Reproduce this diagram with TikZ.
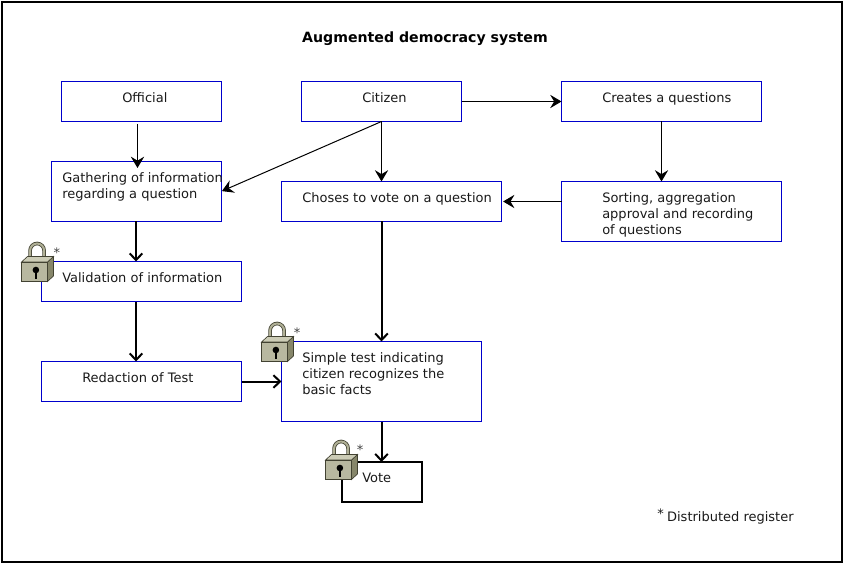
\documentclass[tikz,border=0pt]{standalone}
\usepackage{fontspec}
\setmainfont{DejaVu Sans}
\usetikzlibrary{arrows.meta}

\definecolor{boxblue}{RGB}{0,0,204}
\definecolor{lockfront}{RGB}{184,184,160}
\definecolor{lockside}{RGB}{134,134,106}
\definecolor{locktop}{RGB}{204,204,182}
\definecolor{lockline}{RGB}{66,66,50}
\definecolor{lockbar}{RGB}{176,176,150}

\tikzset{
  stepbox/.style={rectangle, draw=boxblue, line width=0.75pt, inner sep=0pt, outer sep=0pt},
  votebox/.style={rectangle, draw=black, line width=1.5pt, inner sep=0pt, outer sep=0pt},
  steptext/.style={anchor=north west, inner sep=0pt, align=left, text=black!90, font=\fontsize{9.75}{12}\selectfont, execute at begin node={\rule{0pt}{7.5pt}}},
  stepstar/.style={inner sep=0pt, text=black!75, font=\fontsize{9.75}{12}\selectfont},
  thinarrow/.style={draw=black, line width=0.75pt, -{Stealth[length=8.5pt,width=10pt,inset=3pt]}},
  thickarrow/.style={draw=black, line width=1.5pt, -{Straight Barb[length=5pt,width=9.5pt]}},
  lockicon/.pic={
    % Shackle
    \draw[lockline, line width=2.7pt] (8.6,20) -- (8.6,9) arc[start angle=180, end angle=360, x radius=7, y radius=7] -- (22.6,16);
    \draw[lockbar, line width=1.5pt] (8.6,20) -- (8.6,9) arc[start angle=180, end angle=360, x radius=7, y radius=7] -- (22.6,16);
    % Body
    \draw[lockline, fill=lockside, line width=0.5pt] (26,20.5) -- (32,15) -- (32,34.5) -- (26,40) -- cycle;
    \draw[lockline, fill=locktop, line width=0.5pt] (0,20.5) -- (6,15) -- (32,15) -- (26,20.5) -- cycle;
    \draw[lockline, fill=lockfront, line width=0.5pt] (0,20.5) rectangle (26,40);
    % Keyhole
    \fill[black] (14.4,28.5) circle[radius=3.3];
    \fill[black] (13.2,28.5) rectangle (15.6,37.5);
  }
}

\begin{document}
\begin{tikzpicture}[x=0.75pt, y=-0.75pt]
  \useasboundingbox (0,0) rectangle (843,563);

  % Frame
  \draw[black, line width=1.5pt] (2,2) rectangle (842,562);

  % Title
  \node[inner sep=0pt, font=\fontsize{10.6}{12}\selectfont\bfseries] (title) at (425,39) {Augmented democracy system};

  % Boxes
  \node[stepbox, minimum width=127.5pt, minimum height=45pt] (gathering) at (136,191.5) {};
  \node[stepbox, minimum width=120pt, minimum height=30pt] (official) at (141.5,101.5) {};
  \node[stepbox, minimum width=120pt, minimum height=30pt] (citizen) at (381.5,101.5) {};
  \node[stepbox, minimum width=150pt, minimum height=30pt] (creates) at (661.5,101.5) {};
  \node[stepbox, minimum width=165pt, minimum height=30pt] (choses) at (391.5,201.5) {};
  \node[stepbox, minimum width=165pt, minimum height=45pt] (sorting) at (671.5,211.5) {};
  \node[stepbox, minimum width=150pt, minimum height=30pt] (validation) at (141.5,281.5) {};
  \node[stepbox, minimum width=150pt, minimum height=30pt] (redaction) at (141.5,381.5) {};
  \node[stepbox, minimum width=150pt, minimum height=60pt] (simple) at (381.5,381.5) {};
  \node[votebox, minimum width=60pt, minimum height=30pt] (vote) at (382,482) {};

  % Box texts
  \node[steptext] (officialtext) at (122,92) {Official};
  \node[steptext] (citizentext) at (362,92) {Citizen};
  \node[steptext] (createstext) at (602,92) {Creates a questions};
  \node[steptext] (gatheringtext) at (62,172) {Gathering of information\\regarding a question};
  \node[steptext] (chosestext) at (302,192) {Choses to vote on a question};
  \node[steptext] (sortingtext) at (602,192) {Sorting, aggregation\\approval and recording\\of questions};
  \node[steptext] (validationtext) at (62,272) {Validation of information};
  \node[steptext] (redactiontext) at (82,372) {Redaction of Test};
  \node[steptext] (simpletext) at (302,352) {Simple test indicating\\citizen recognizes the\\basic facts};
  \node[steptext] (votetext) at (362,472) {Vote};
  \node[steptext] (registertext) at (657,508.5) {\raisebox{2.6pt}{*}\hspace{2.5pt}Distributed register};

  % Arrow ends that are free
  \coordinate (officialout) at (137.5,124);
  \coordinate (gatheringin) at (137.5,168);

  % Arrows
  \draw[thinarrow] (officialout) -- (gatheringin);
  \draw[thinarrow, shorten >=0.75pt] (citizen.south) -- (gathering.east);
  \draw[thinarrow] (citizen.south) -- (citizen.south |- choses.north);
  \draw[thinarrow] (citizen.east) -- (creates.west);
  \draw[thinarrow] (creates.south) -- (creates.south |- sorting.north);
  \draw[thinarrow, shorten >=1.2pt] (sorting.west |- choses.east) -- (choses.east);
  \draw[thickarrow] (gathering.south) -- (gathering.south |- validation.north);
  \draw[thickarrow] (gathering.south |- validation.south) -- (gathering.south |- redaction.north);
  \draw[thickarrow] (redaction.east) -- (simple.west);
  \draw[thickarrow] (simple.north |- choses.south) -- (simple.north);
  \draw[thickarrow] (simple.south) -- (simple.south |- vote.north);

  % Locks
  \pic at (21.5,241.5) {lockicon};
  \pic at (261.5,321.5) {lockicon};
  \pic at (325.5,439.5) {lockicon};
  \node[stepstar] (starone) at (57,253) {*};
  \node[stepstar] (startwo) at (297,333) {*};
  \node[stepstar] (starthree) at (360,450) {*};
\end{tikzpicture}
\end{document}
